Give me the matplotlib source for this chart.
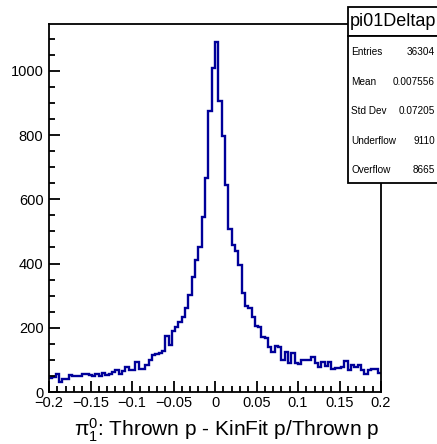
import matplotlib
matplotlib.use("Agg")
import matplotlib.pyplot as plt
import numpy as np
from matplotlib.patches import Rectangle
from matplotlib.ticker import MultipleLocator

# bin contents of pi01Deltap, 100 bins from -0.2 to 0.2
counts = [45, 46, 57, 31, 42, 42, 54, 50, 50, 50,
          57, 55, 52, 50, 57, 50, 59, 52, 57, 62,
          70, 57, 66, 78, 68, 68, 94, 73, 73, 83,
          101, 114, 117, 120, 128, 174, 146, 189, 203, 218,
          234, 263, 302, 359, 411, 452, 544, 667, 876, 1009,
          1091, 905, 797, 643, 507, 457, 440, 395, 307, 268,
          260, 234, 205, 203, 171, 168, 140, 125, 143, 140,
          101, 125, 90, 120, 90, 88, 101, 99, 101, 109,
          90, 78, 94, 81, 92, 73, 76, 76, 78, 97,
          70, 83, 78, 83, 68, 57, 70, 71, 73, 59]
x_min, x_max = -0.2, 0.2
edges = np.linspace(x_min, x_max, len(counts) + 1)

stat_names = ["Entries", "Mean", "Std Dev", "Underflow", "Overflow"]
stat_values = ["36304", "0.007556", "0.07205", "9110", "8665"]
hist_name = "pi01Deltap"
x_title = r"$\mathregular{π^{0}_{1}}$: Thrown p - KinFit p/Thrown p"

plt.rcParams["font.family"] = ["Liberation Sans", "DejaVu Sans"]
plt.rcParams["mathtext.fontset"] = "custom"
plt.rcParams["mathtext.rm"] = "Liberation Sans"

W, H = 437, 444
fig = plt.figure(figsize=(W / 100, H / 100), dpi=100)
ax = fig.add_axes([49 / W, 1 - 392 / H, 332 / W, 368 / H])

ax.stairs(counts, edges, baseline=None, color="#000099", linewidth=1.7)

ax.set_xlim(x_min, x_max)
ax.set_ylim(0, 1.05 * max(counts))
ax.xaxis.set_major_locator(MultipleLocator(0.05))
ax.xaxis.set_minor_locator(MultipleLocator(0.01))
ax.yaxis.set_major_locator(MultipleLocator(200))
ax.yaxis.set_minor_locator(MultipleLocator(50))
ax.xaxis.set_major_formatter(plt.FuncFormatter(lambda v, p: ("%g" % round(v, 3)).replace("-", "\u2212")))

ax.tick_params(which="both", direction="in", top=False, right=False,
               labelsize=10.5, width=1.3)
ax.tick_params(which="major", length=8)
ax.tick_params(which="minor", length=4)
ax.tick_params(axis="x", pad=3)
ax.tick_params(axis="y", pad=4)
for s in ax.spines.values():
    s.set_linewidth(1.3)

fig.text(379 / W, 1 - 430 / H, x_title, ha="right", va="center", fontsize=15)

# stats box
box_l = 348 / W
fig.patches.append(Rectangle((box_l, 1 - 36 / H), 0.3, 29 / H, transform=fig.transFigure,
                             facecolor="white", edgecolor="black", linewidth=1.3))
fig.patches.append(Rectangle((box_l, 1 - 183 / H), 0.3, 147 / H, transform=fig.transFigure,
                             facecolor="white", edgecolor="black", linewidth=1.3))
fig.text(350 / W, 1 - 21.5 / H, hist_name, ha="left", va="center", fontsize=13)
rows = [52, 82, 111, 141, 170]
for name, val, r in zip(stat_names, stat_values, rows):
    fig.text(351 / W, 1 - r / H, name, ha="left", va="center", fontsize=7.2)
    fig.text(435 / W, 1 - r / H, val, ha="right", va="center", fontsize=7.2)

fig.savefig("out.png", dpi=100)
